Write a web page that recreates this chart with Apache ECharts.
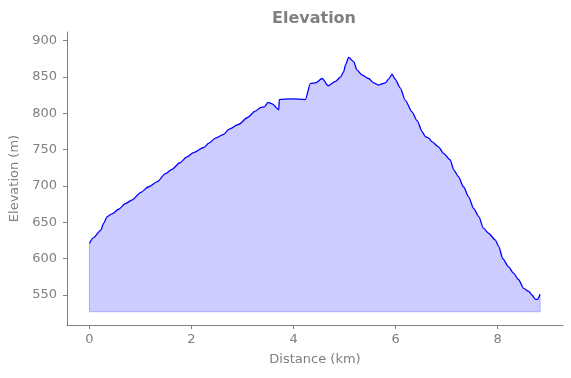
<!DOCTYPE html>
<html>
<head>
<meta charset="utf-8">
<script src="https://cdn.jsdelivr.net/npm/echarts@6/dist/echarts.min.js"></script>
<style>
  html, body { margin: 0; padding: 0; background: #fff; }
  #chart { width: 571px; height: 378px; }
</style>
</head>
<body>
<div id="chart"></div>
<script>
// distance along the track (km) and elevation (m)
const distance = [
  0.00, 0.08, 0.22, 0.28, 0.35, 0.45, 0.57, 0.71, 0.84, 1.00,
  1.16, 1.33, 1.49, 1.62, 1.77, 1.91, 2.04, 2.24, 2.34, 2.47,
  2.63, 2.73, 2.93, 3.09, 3.25, 3.35, 3.43, 3.50, 3.58, 3.71,
  3.72, 3.97, 4.23, 4.33, 4.43, 4.56, 4.68, 4.82, 4.92, 4.98,
  5.02, 5.08, 5.18, 5.24, 5.34, 5.47, 5.57, 5.67, 5.80, 5.86,
  5.93, 5.99, 6.09, 6.19, 6.32, 6.42, 6.52, 6.58, 6.65, 6.71,
  6.84, 6.94, 7.07, 7.14, 7.23, 7.33, 7.43, 7.53, 7.63, 7.72,
  7.82, 7.95, 8.02, 8.10, 8.21, 8.31, 8.41, 8.51, 8.61, 8.67,
  8.74, 8.78, 8.83
];
const elevation = [
  621, 629, 639, 649, 658, 662, 668, 676, 681, 691,
  699, 706, 717, 723, 732, 740, 746, 753, 759, 766,
  771, 778, 785, 794, 803, 808, 809, 815, 813, 805,
  819, 820, 819, 841, 842, 848, 838, 844, 850, 857,
  867, 877, 871, 860, 853, 848, 842, 839, 842, 847,
  854, 847, 835, 818, 802, 790, 775, 768, 766, 761,
  754, 745, 736, 722, 713, 699, 685, 669, 658, 642,
  635, 626, 617, 600, 589, 580, 571, 559, 555, 550,
  544, 544, 551
];
const fillBase = 527;
const xTicks = [0, 2, 4, 6, 8];
const yTicks = [550, 600, 650, 700, 750, 800, 850, 900];

const grey = '#808080';
const chart = echarts.init(document.getElementById('chart'));

const profile = distance.map((d, i) => [d, elevation[i]]);
const last = distance.length - 1;
const fillEdge = [
  [distance[0], elevation[0]],
  [distance[0], fillBase],
  [distance[last], fillBase],
  [distance[last], elevation[last]]
];

chart.setOption({
  animation: false,
  title: {
    text: 'Elevation',
    left: 314, top: 11, padding: 0,
    textAlign: 'center',
    textStyle: { color: grey, fontSize: 16, fontWeight: 'bold', fontFamily: 'DejaVu Sans' }
  },
  grid: { left: 67, right: 8, top: 32, bottom: 53 },
  xAxis: {
    type: 'value',
    min: -0.44, max: 9.28,
    name: 'Distance (km)',
    nameLocation: 'middle', nameGap: 28,
    nameTextStyle: { color: grey, fontSize: 13, fontFamily: 'DejaVu Sans' },
    axisLine: { onZero: false, lineStyle: { color: grey, width: 1 } },
    axisTick: { customValues: xTicks, length: 4, lineStyle: { color: grey } },
    axisLabel: { customValues: xTicks, color: grey, fontSize: 13, margin: 8, fontFamily: 'DejaVu Sans' },
    splitLine: { show: false }
  },
  yAxis: {
    type: 'value',
    min: 508.7, max: 912,
    name: 'Elevation (m)',
    nameLocation: 'middle', nameGap: 42,
    nameTextStyle: { color: grey, fontSize: 13, fontFamily: 'DejaVu Sans' },
    axisLine: { show: true, onZero: false, lineStyle: { color: grey, width: 1 } },
    axisTick: { show: true, customValues: yTicks, length: 4, lineStyle: { color: grey } },
    axisLabel: { customValues: yTicks, color: grey, fontSize: 13, margin: 10, fontFamily: 'DejaVu Sans' },
    splitLine: { show: false }
  },
  series: [
    {
      // outline of the shaded area
      type: 'line',
      data: fillEdge,
      symbol: 'none',
      lineStyle: { color: '#aaaaff', width: 1 },
      silent: true
    },
    {
      type: 'line',
      data: profile,
      symbol: 'none',
      smooth: 0.25,
      smoothMonotone: 'x',
      lineStyle: { color: '#0000ff', width: 1.3 },
      areaStyle: { color: '#ccccff', opacity: 1, origin: fillBase }
    }
  ]
});
</script>
</body>
</html>
